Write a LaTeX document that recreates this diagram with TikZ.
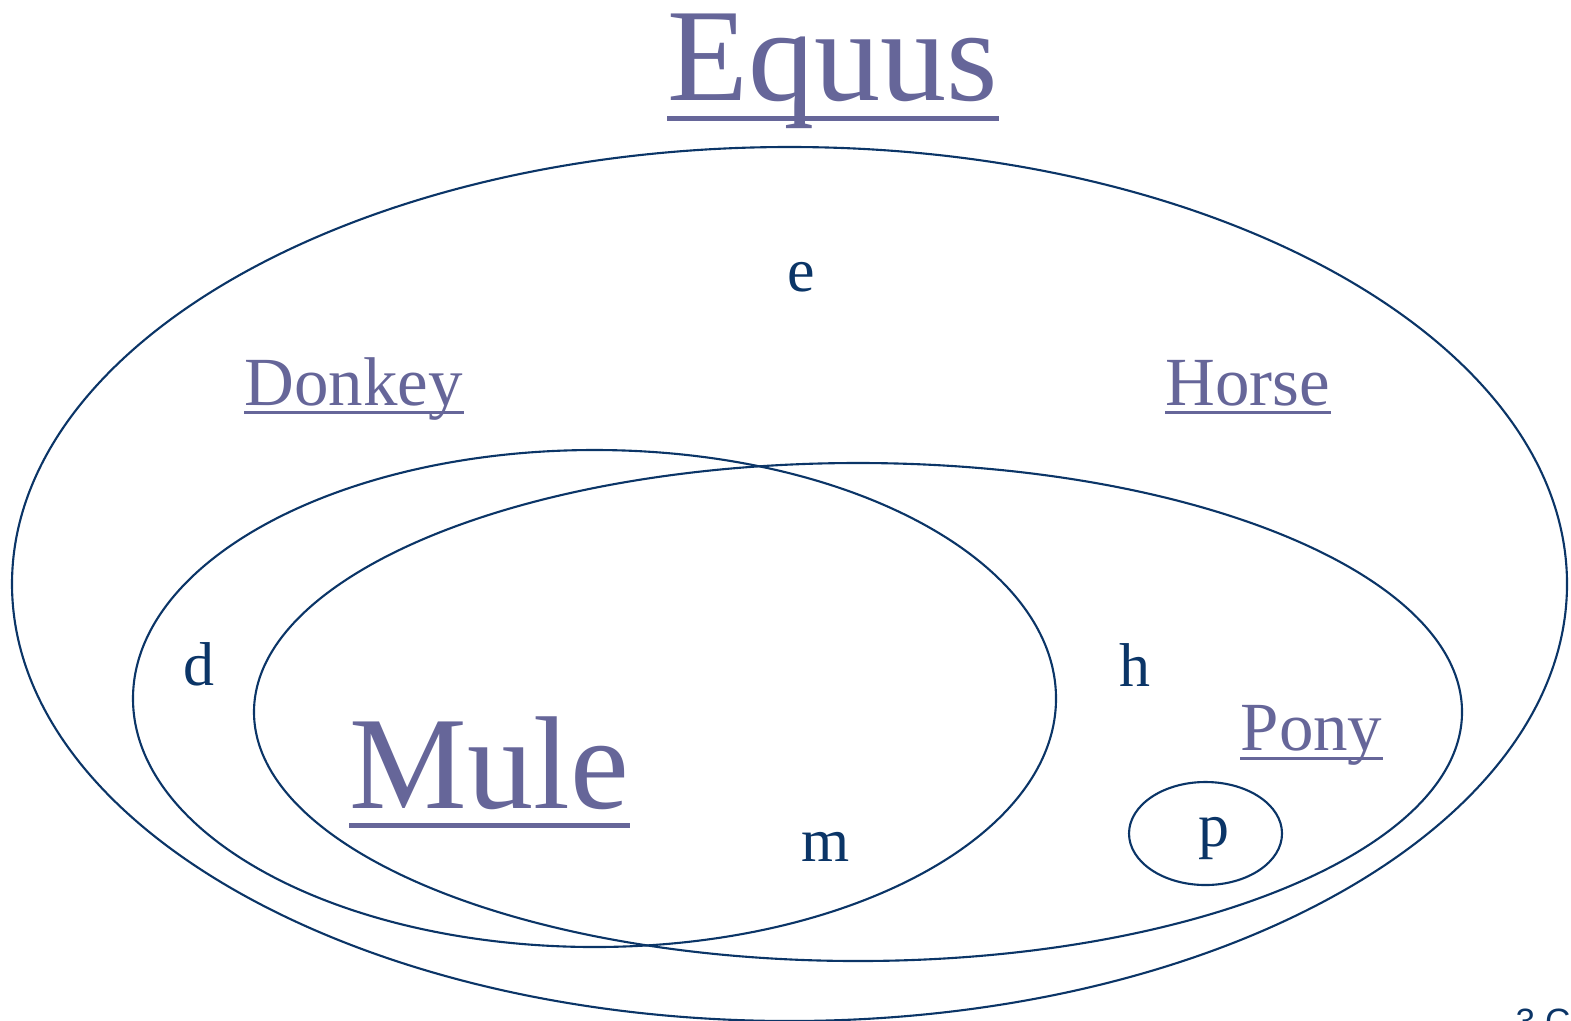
\documentclass[tikz,border=0pt]{standalone}
\usepackage{fontspec}
\setmainfont{Liberation Serif}
\newfontfamily\slidesans{Liberation Sans}
\definecolor{EqLine}{HTML}{0B3567}
\definecolor{EqLabel}{HTML}{666699}
\tikzset{
  setline/.style={EqLine,line width=0.6pt},
  biglabel/.style={EqLabel,inner sep=0pt,anchor=base west,font=\fontsize{37.6}{40}\selectfont},
  label/.style={EqLabel,inner sep=0pt,anchor=base west,font=\fontsize{19.6}{22}\selectfont},
  member/.style={EqLine,inner sep=0pt,anchor=base,font=\fontsize{17.6}{20}\selectfont},
  uline/.style={EqLabel,line width=#1},
}
\begin{document}
\begin{tikzpicture}[x=0.01cm,y=0.01cm]
\path[use as bounding box] (0,0) rectangle (1571,1020);
% sets
\draw[setline] (789.5,436) ellipse [x radius=777.5,y radius=437];
\draw[setline] (594.5,321.5) ellipse [x radius=461.5,y radius=248.5];
\draw[setline] (858,308) ellipse [x radius=604,y radius=249];
\draw[setline] (1205.5,186.5) ellipse [x radius=76.5,y radius=51.5];
% titles
\node[biglabel] (equus) at (667,920) {Equus};
\draw[uline=0.05cm] ([yshift=-0.18cm]equus.base west) -- ([yshift=-0.18cm]equus.base east);
\node[biglabel] (mule) at (349,212) {Mule};
\draw[uline=0.05cm] ([yshift=-0.17cm]mule.base west) -- ([yshift=-0.17cm]mule.base east);
\node[label] (donkey) at (244,615) {Donkey};
\draw[uline=0.03cm] ([yshift=-0.07cm]donkey.base west) -- ([yshift=-0.07cm]donkey.base east);
\node[label] (horse) at (1165,615) {Horse};
\draw[uline=0.03cm] ([yshift=-0.07cm]horse.base west) -- ([yshift=-0.07cm]horse.base east);
\node[label] (pony) at (1240,270) {Pony};
\draw[uline=0.03cm] ([yshift=-0.08cm]pony.base west) -- ([yshift=-0.08cm]pony.base east);
% members
\node[member] (e) at (801,729) {e};
\node[member] (d) at (199,335) {d};
\node[member] (h) at (1135,334) {h};
\node[member] (m) at (826,159) {m};
\node[member] (p) at (1214,174) {p};
% page number, cut at the edge
\node[EqLine,inner sep=0pt,anchor=north west,font=\slidesans\fontsize{10}{12}\selectfont] (pg) at (1515,12) {3 C};
\end{tikzpicture}
\end{document}
